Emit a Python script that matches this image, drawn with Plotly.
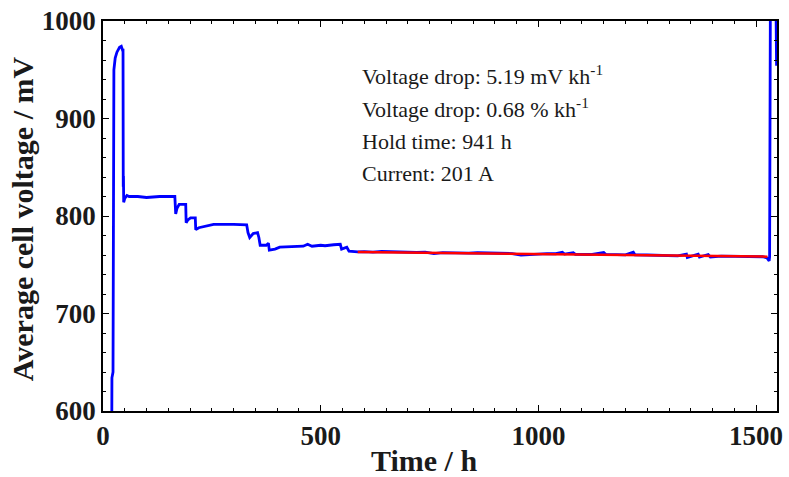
import plotly.graph_objects as go

# Measured cell voltage (blue trace)
time_h = [20, 20.5, 23, 24, 25, 28, 32, 38, 42, 45, 46, 46.5, 47, 47.5, 50, 55, 60, 80, 100, 130, 165,
          167, 170, 175, 190, 191, 195, 201, 212, 213, 220, 254, 300, 330, 333, 337, 345, 355, 358, 361,
          375, 380, 382, 395, 406, 430, 460, 470, 480, 500, 510, 530, 545, 548, 555, 560, 565, 575,
          585, 600, 620, 640, 660, 680, 700, 720, 740, 760, 780, 800, 820, 840, 860, 880, 900, 920,
          940, 960, 980, 1000, 1020, 1040, 1055, 1060, 1080, 1085, 1100, 1120, 1150, 1155, 1180, 1200,
          1218, 1222, 1250, 1280, 1300, 1320, 1340, 1342, 1367, 1370, 1390, 1395, 1420, 1440, 1460,
          1480, 1500, 1515, 1525, 1530, 1531, 1533, 1545, 1546, 1547]
voltage_mv = [560, 634, 640, 864, 950, 962, 968, 973, 974, 970, 970, 830, 841, 814, 818, 821, 820, 820, 819, 820, 820,
              802, 808, 812, 812, 793, 796, 798, 798, 786, 788, 791.5, 791.5, 791, 783, 778, 782, 783, 778, 770,
              770, 772, 765, 766, 768, 768.5, 769, 771, 769, 770, 769.5, 770.5, 771, 766, 767, 768, 764, 763.5,
              763.3, 763.4, 763.0, 763.6, 763.2, 762.8, 763.1, 762.6, 762.9, 761.4, 762.5, 762.2, 762.6, 762.0, 762.3, 762.1, 761.8, 762.0,
              761.5, 759.8, 760.5, 760.9, 761.5, 761.3, 762.8, 761.0, 762.4, 760.6, 760.8, 760.5, 762.5, 760.4, 760.3, 760.2,
              763.0, 760.1, 760.0, 759.8, 759.5, 759.2, 761.0, 757.5, 760.8, 757.8, 760.5, 758.0, 758.8, 758.6, 758.3,
              758.0, 758.5, 758.2, 757.0, 754.0, 758.0, 1050, 1050, 976, 954]

# Linear fit over the hold period (red trace)
fit_time_h = [585, 1526]
fit_voltage_mv = [763.2, 758.3]

info_lines = ["Voltage drop: 5.19 mV kh<sup>-1</sup>",
              "Voltage drop: 0.68 % kh<sup>-1</sup>",
              "Hold time: 941 h",
              "Current: 201 A"]

x_ticks = [0, 500, 1000, 1500]
y_ticks = [600, 700, 800, 900, 1000]

SERIF = "Liberation Serif"

fig = go.Figure()
fig.add_trace(go.Scatter(x=time_h, y=voltage_mv, mode="lines",
                         line=dict(color="#0000FF", width=2.8), showlegend=False))
fig.add_trace(go.Scatter(x=fit_time_h, y=fit_voltage_mv, mode="lines",
                         line=dict(color="#FF0000", width=2.5), showlegend=False))

axis_common = dict(showline=True, linecolor="black", linewidth=1.5, mirror="allticks",
                   ticks="inside", ticklen=6, tickwidth=1.2, tickcolor="black",
                   showgrid=False, zeroline=False,
                   tickfont=dict(family=SERIF, size=27, color="#1a1a1a", weight="bold"))

fig.update_xaxes(range=[0, 1548], tickvals=x_ticks,
                 minor=dict(ticks="inside", ticklen=3, dtick=50, tick0=0, tickcolor="black", tickwidth=1),
                 **axis_common)
fig.update_yaxes(range=[600, 1000], tickvals=y_ticks,
                 minor=dict(ticks="inside", ticklen=3, dtick=20, tick0=600, tickcolor="black", tickwidth=1),
                 **axis_common)

for i, txt in enumerate(info_lines):
    fig.add_annotation(x=0.381, y=(411 - 71 - 33.3 * i) / 395, xref="paper", yref="paper",
                       text=txt, showarrow=False, xanchor="left", yanchor="middle",
                       font=dict(family=SERIF, size=22, color="#1a1a1a"))

fig.add_annotation(x=(427 - 103) / 680, y=-(461 - 411) / 395, xref="paper", yref="paper",
                   text="Time / h", showarrow=False, xanchor="center", yanchor="middle",
                   font=dict(family=SERIF, size=30, color="#1a1a1a", weight="bold"))
fig.add_annotation(x=-(103 - 22) / 680, y=(411 - 216) / 395, xref="paper", yref="paper",
                   text="Average cell voltage / mV", showarrow=False, textangle=-90,
                   xanchor="center", yanchor="middle",
                   font=dict(family=SERIF, size=30, color="#1a1a1a", weight="bold"))

fig.update_layout(width=789, height=477, margin=dict(l=103, r=6, t=16, b=66),
                  plot_bgcolor="white", paper_bgcolor="white")

fig.write_html("out.html")
